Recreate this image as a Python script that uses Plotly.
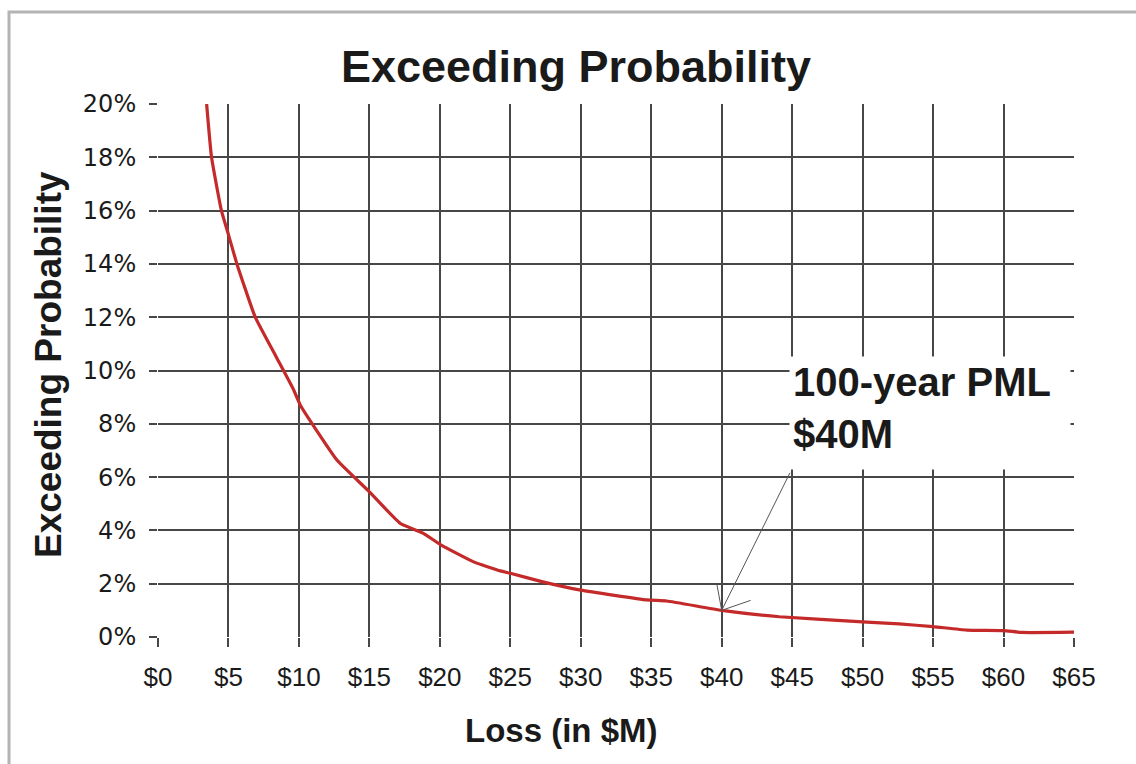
import plotly.graph_objects as go

# Exceedance curve: loss in $M vs. probability of exceeding it (%)
loss_musd = [3.45, 3.8, 4.5, 5.0, 5.6, 6.9, 8.4, 9.6, 10.1, 12.7, 14.9, 17.2, 18.8,
             20.1, 22.4, 24.3, 25.0, 27.3, 30.0, 34.7, 36.1, 40.0, 44.1, 50.0,
             52.6, 55.0, 57.4, 60.0, 61.3, 65.0]
exceed_pct = [20.0, 18.0, 16.0, 15.1, 14.0, 12.0, 10.5, 9.3, 8.7, 6.64, 5.5, 4.26, 3.9,
              3.45, 2.82, 2.48, 2.39, 2.07, 1.76, 1.39, 1.35, 1.0, 0.76, 0.57,
              0.49, 0.39, 0.26, 0.24, 0.17, 0.18]

pml_loss = 40.0
pml_prob = 1.0
pml_label = "100-year PML<br>$40M"

x_tickvals = [0, 5, 10, 15, 20, 25, 30, 35, 40, 45, 50, 55, 60, 65]
x_ticklabels = ["$0", "$5", "$10", "$15", "$20", "$25", "$30", "$35",
                "$40", "$45", "$50", "$55", "$60", "$65"]
y_tickvals = [0, 2, 4, 6, 8, 10, 12, 14, 16, 18, 20]
y_ticklabels = ["0%", "2%", "4%", "6%", "8%", "10%", "12%", "14%", "16%", "18%", "20%"]

W, H = 1136, 764
L, R, T, B = 158, 1074, 104, 637


def px_x(px):
    return (px - L) / (R - L)


def px_y(py):
    return (B - py) / (B - T)


GRID = "#474747"
TEXT = "#1a1a1a"
BOLD = "Liberation Sans, Arial, sans-serif"

fig = go.Figure()
fig.add_trace(go.Scatter(
    x=loss_musd, y=exceed_pct, mode="lines",
    line=dict(color="#c42a2a", width=3.2, shape="spline", smoothing=0.4),
    hoverinfo="skip", showlegend=False,
))

fig.update_layout(
    width=W, height=H,
    margin=dict(l=L, r=W - R, t=T, b=H - B),
    paper_bgcolor="white", plot_bgcolor="white",
    showlegend=False,
    xaxis=dict(
        range=[0, 65], tickmode="array", tickvals=x_tickvals, ticktext=x_ticklabels,
        showgrid=True, gridcolor=GRID, gridwidth=1.7,
        zeroline=False, showline=False,
        ticks="outside", ticklen=9, tickcolor=GRID, tickwidth=1.7,
        tickfont=dict(family="Liberation Sans, Arial", size=26, color=TEXT),
        ticklabelstandoff=8,
    ),
    yaxis=dict(
        range=[0, 20], tickmode="array", tickvals=y_tickvals, ticktext=y_ticklabels,
        showgrid=True, gridcolor=GRID, gridwidth=1.7,
        zeroline=False, showline=False,
        ticks="outside", ticklen=8, tickcolor=GRID, tickwidth=1.7,
        tickfont=dict(family="DejaVu Sans, Liberation Sans, Arial", size=24, color=TEXT),
        ticklabelstandoff=8,
    ),
    shapes=[
        # outer chart frame
        dict(type="rect", xref="paper", yref="paper", layer="below",
             x0=px_x(9), x1=px_x(W + 20), y0=px_y(H + 20), y1=px_y(12),
             line=dict(color="#b4b4b4", width=3), fillcolor="rgba(0,0,0,0)"),
        # open arrowhead barbs at the PML point
        dict(type="line", xref="x", yref="y", xsizemode="pixel", ysizemode="pixel",
             xanchor=pml_loss, yanchor=pml_prob, x0=0, y0=0, x1=-5, y1=27,
             line=dict(color="#555555", width=1)),
        dict(type="line", xref="x", yref="y", xsizemode="pixel", ysizemode="pixel",
             xanchor=pml_loss, yanchor=pml_prob, x0=0, y0=0, x1=29, y1=10,
             line=dict(color="#555555", width=1)),
    ],
    annotations=[
        dict(text="Exceeding Probability", xref="paper", yref="paper",
             x=px_x(576), y=px_y(66), xanchor="center", yanchor="middle",
             showarrow=False, font=dict(family=BOLD, size=45, color=TEXT, weight="bold")),
        dict(text="Exceeding Probability", xref="paper", yref="paper",
             x=px_x(48), y=px_y(365), xanchor="center", yanchor="middle", textangle=-90,
             showarrow=False, font=dict(family=BOLD, size=37, color=TEXT, weight="bold")),
        dict(text="Loss (in $M)", xref="paper", yref="paper",
             x=px_x(561), y=px_y(730), xanchor="center", yanchor="middle",
             showarrow=False, font=dict(family=BOLD, size=33, color=TEXT, weight="bold")),
        dict(text=pml_label, xref="paper", yref="paper",
             x=px_x(789), y=px_y(356), xanchor="left", yanchor="top", align="left",
             valign="top", width=274, height=106,
             showarrow=False, bgcolor="white", borderpad=3,
             font=dict(family=BOLD, size=40, color=TEXT, weight="bold")),
        dict(text="", x=pml_loss, y=pml_prob, xref="x", yref="y",
             showarrow=True, arrowhead=0, arrowwidth=1, arrowcolor="#555555",
             ax=69, ay=-139, standoff=0),
    ],
)

fig.write_html("out.html")
